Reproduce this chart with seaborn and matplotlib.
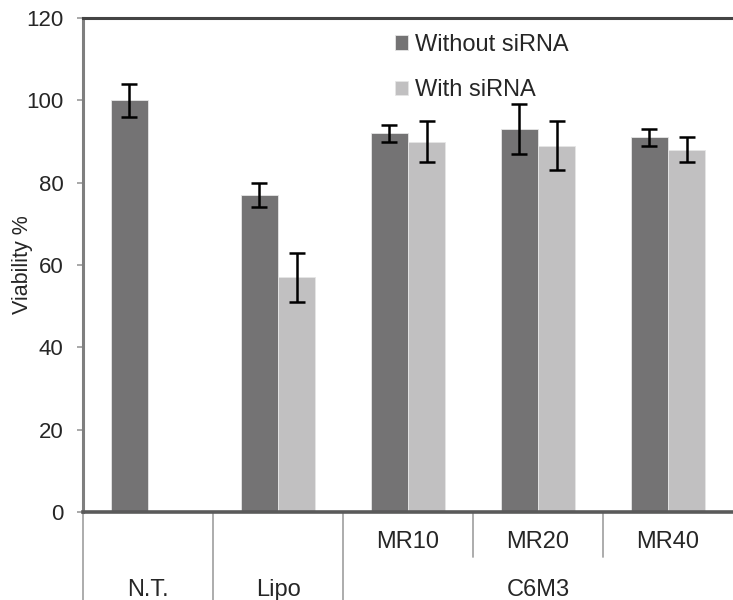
import numpy as np
import pandas as pd
import seaborn as sns
import matplotlib.pyplot as plt

# Data
CATEGORIES = ['N.T.', 'Lipo', 'MR10', 'MR20', 'MR40']
GROUP_LABELS = ['N.T.', 'Lipo', 'C6M3']
SERIES = ['Without siRNA', 'With siRNA']
WITHOUT = [100, 77, 92, 93, 91]
WITHOUT_ERR = [4, 3, 2, 6, 2]
WITH = [np.nan, 57, 90, 89, 88]
WITH_ERR = [np.nan, 6, 5, 6, 3]
Y_TICKS = [0, 20, 40, 60, 80, 100, 120]

DARK = '#747374'
LIGHT = '#c1c0c1'

sns.set_theme(style='white')
plt.rcParams['font.family'] = ['Liberation Sans', 'DejaVu Sans']

df = pd.DataFrame({
    'cat': CATEGORIES * 2,
    'series': [SERIES[0]] * 5 + [SERIES[1]] * 5,
    'value': WITHOUT + WITH,
})

fig = plt.figure(figsize=(7.33, 6.0), dpi=100)
ax = fig.add_axes([83 / 733, 88 / 600, 650 / 733, 494 / 600])

bar_w = 0.57
sns.barplot(data=df, x='cat', y='value', hue='series', order=CATEGORIES,
            hue_order=SERIES, palette=[DARK, LIGHT], width=bar_w, gap=0,
            errorbar=None, edgecolor='#e6e6e6', linewidth=0.6, saturation=1,
            ax=ax)

# error bars at the dodged bar centres
x = np.arange(len(CATEGORIES))
for j, (vals, errs) in enumerate([(WITHOUT, WITHOUT_ERR), (WITH, WITH_ERR)]):
    xs = x + (j - 0.5) * bar_w / 2
    ax.errorbar(xs, vals, yerr=errs, fmt='none', ecolor='black',
                elinewidth=1.8, capsize=6, capthick=1.8, zorder=5)

ax.set_xlim(-0.5, len(CATEGORIES) - 0.5)
ax.set_ylim(0, 120)
ax.set_yticks(Y_TICKS)
ax.tick_params(axis='y', direction='out', length=4, width=1.2, color='#999999',
               labelsize=16, pad=10, left=True)
ax.set_xticks([])
ax.set_xlabel('')
ax.set_ylabel('Viability %', fontsize=15.5)
ax.yaxis.set_label_coords(-0.077, 0.5)

for side in ['left', 'top', 'bottom']:
    ax.spines[side].set_visible(True)
ax.spines['right'].set_visible(False)
ax.spines['left'].set_color('#7f7f7f')
ax.spines['left'].set_linewidth(2.2)
ax.spines['top'].set_color('#444444')
ax.spines['top'].set_linewidth(2.2)
ax.spines['bottom'].set_color('#5a5a5a')
ax.spines['bottom'].set_linewidth(2.6)

# two-level category axis below the plot
tr = ax.get_xaxis_transform()
row1 = -30 / 494
row2 = -78 / 494
full = -88 / 494
half = -45 / 494
for xs, ylow in [(-0.5, full), (0.5, full), (1.5, full), (2.5, half), (3.5, half)]:
    ax.plot([xs, xs], [0, ylow], transform=tr, color='#a6a6a6', lw=1.3,
            clip_on=False)
for i, lab in enumerate(CATEGORIES[2:]):
    ax.text(i + 2, row1, lab, transform=tr, ha='center', va='center', fontsize=17)
for xs, lab in zip([0, 1, 3], GROUP_LABELS):
    ax.text(xs, row2, lab, transform=tr, ha='center', va='center', fontsize=17)

handles, labels = ax.get_legend_handles_labels()
ax.legend(handles, labels, loc='upper left', bbox_to_anchor=(383 / 733, 1 - 22 / 600),
          bbox_transform=fig.transFigure, frameon=False, fontsize=17,
          handlelength=0.55, handleheight=0.55, handletextpad=0.3,
          labelspacing=1.0, borderpad=0)

fig.savefig('out.png', dpi=100)
